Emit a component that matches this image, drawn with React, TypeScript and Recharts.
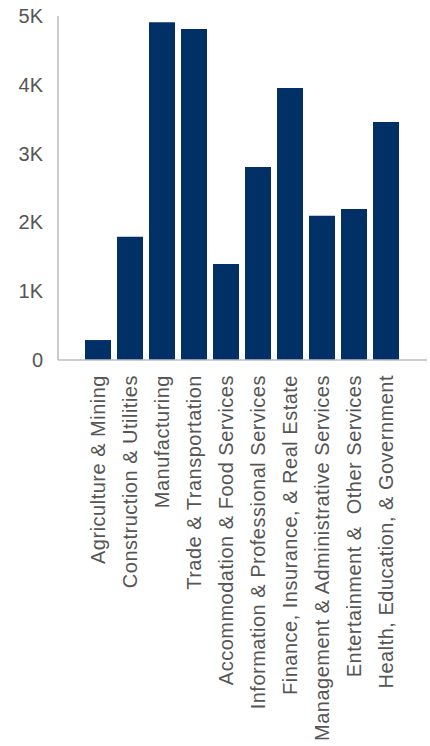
import React from 'react';
import { BarChart, Bar, XAxis, YAxis } from 'recharts';

const industries = [
  'Agriculture & Mining',
  'Construction & Utilities',
  'Manufacturing',
  'Trade & Transportation',
  'Accommodation & Food Services',
  'Information & Professional Services',
  'Finance, Insurance, & Real Estate',
  'Management & Administrative Services',
  'Entertainment &  Other Services',
  'Health, Education, & Government',
];

const employees = [290, 1790, 4910, 4810, 1395, 2805, 3955, 2095, 2195, 3460];

const yTicks = [0, 1000, 2000, 3000, 4000, 5000];

const data = industries.map((name, i) => ({ name, value: employees[i] }));

const FONT = "'Liberation Sans', Arial, sans-serif";
const TEXT = '#555555';

const formatK = (v: number) => (v === 0 ? '0' : `${v / 1000}K`);

// y-axis labels sit right-aligned a bit left of the axis line
const YTick = (props: any) => {
  const { x, y, payload } = props;
  return (
    <text x={x} y={y} dy={7} textAnchor="end" fill={TEXT} fontSize={20} fontFamily={FONT}>
      {formatK(payload.value)}
    </text>
  );
};

// category labels run bottom-to-top, ending just under the baseline
const XTick = (props: any) => {
  const { x, y, payload } = props;
  return (
    <g transform={`translate(${x},${y})`}>
      <text
        x={0}
        y={0}
        dy={7}
        transform="rotate(-90)"
        textAnchor="end"
        fill={TEXT}
        fontSize={20}
        letterSpacing={0.5}
        fontFamily={FONT}
        style={{ whiteSpace: 'pre' }}
      >
        {payload.value}
      </text>
    </g>
  );
};

export default function App() {
  return (
    <div style={{ position: 'absolute', left: 0, top: 0, background: '#fff' }}>
      <BarChart
        width={430}
        height={746}
        data={data}
        margin={{ top: 16, right: 3, bottom: 0, left: 0 }}
        barSize={26}
      >
        <XAxis
          dataKey="name"
          interval={0}
          height={386}
          padding={{ left: 24, right: 25 }}
          tick={<XTick />}
          tickLine={false}
          tickMargin={9}
          axisLine={{ stroke: '#bdbdbd', strokeWidth: 1.5 }}
        />
        <YAxis
          type="number"
          domain={[0, 5000]}
          ticks={yTicks}
          width={58}
          tick={<YTick />}
          tickLine={false}
          tickSize={0}
          tickMargin={15}
          axisLine={{ stroke: '#bdbdbd', strokeWidth: 1.5 }}
        />
        <Bar dataKey="value" fill="#003066" isAnimationActive={false} />
      </BarChart>
    </div>
  );
}
